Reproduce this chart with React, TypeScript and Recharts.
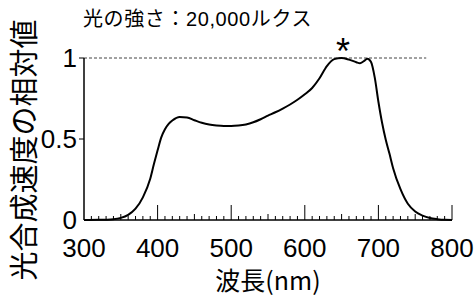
import { LineChart, Line, XAxis, YAxis, ReferenceLine, ReferenceDot } from "recharts";

// wavelength (nm) and relative photosynthetic rate
const wavelengths = [
  300, 320, 340, 350, 360, 370, 380, 390, 395, 400, 405, 410, 415, 420, 430,
  440, 450, 460, 470, 480, 490, 500, 510, 520, 530, 540, 550, 560, 570, 580,
  590, 600, 610, 620, 630, 640, 650, 660, 670, 675, 680, 685, 690, 695, 700,
  705, 710, 715, 720, 730, 740, 750, 760, 770, 780, 790, 800,
];
const rates = [
  0, 0.001, 0.005, 0.013, 0.032, 0.07, 0.14, 0.255, 0.345, 0.43, 0.51, 0.56,
  0.593, 0.614, 0.636, 0.633, 0.616, 0.6, 0.589, 0.583, 0.58, 0.58, 0.583,
  0.59, 0.603, 0.622, 0.644, 0.665, 0.688, 0.713, 0.742, 0.776, 0.815, 0.875,
  0.95, 0.993, 1.0, 0.99, 0.974, 0.968, 0.98, 0.995, 0.975, 0.88, 0.73, 0.6,
  0.495, 0.41, 0.32, 0.19, 0.1, 0.052, 0.027, 0.012, 0.005, 0.001, 0,
];

const xMajorTicks = [300, 400, 500, 600, 700, 800];
const yTicks = [0, 0.5, 1];
const peakWavelength = 652;

const data = wavelengths.map((w, i) => ({ w, v: rates[i] }));
// minor ticks every 10 nm between the labelled ones
const xAllTicks = Array.from({ length: 51 }, (_, i) => xMajorTicks[0] + i * 10);

const FONT = '"Liberation Sans", Arial, "Noto Sans CJK JP", sans-serif';
const JP_FONT = '"Noto Sans CJK JP", sans-serif';

function XTick({ x, y, payload }: any) {
  const v = payload.value as number;
  const major = xMajorTicks.includes(v);
  const mid = !major && v % 50 === 0;
  const len = major ? (v === 300 ? 0 : 15) : mid ? 6 : 4;
  return (
    <g>
      {len > 0 && <line x1={x} x2={x} y1={y} y2={y - len} stroke="#000" strokeWidth={1} />}
      {major && (
        <text x={x} y={y + 37} textAnchor="middle" fontSize={26} fontFamily={FONT} fill="#000">
          {v}
        </text>
      )}
    </g>
  );
}

function YTick({ x, y, payload }: any) {
  return (
    <g>
      {payload.value !== 0 && (
        <line x1={x} x2={x - 5} y1={y} y2={y} stroke="#000" strokeWidth={1} />
      )}
      <text x={x - 7} y={y + 9} textAnchor="end" fontSize={26} fontFamily={FONT} fill="#000">
        {payload.value}
      </text>
    </g>
  );
}

export default function App() {
  return (
    <div style={{ position: "absolute", left: 0, top: 0, width: 476, height: 296, background: "#fff" }}>
      <div
        style={{
          position: "absolute",
          left: 83,
          top: 6,
          fontSize: 20,
          fontFamily: JP_FONT,
          whiteSpace: "nowrap",
          lineHeight: "24px",
          letterSpacing: 0.6,
        }}
      >
        光の強さ：<span style={{ fontFamily: FONT }}>20,000</span>ルクス
      </div>
      <div
        style={{
          position: "absolute",
          left: 22,
          top: 150,
          transform: "translate(-50%, -50%) rotate(-90deg)",
          fontSize: 29,
          fontFamily: JP_FONT,
          whiteSpace: "nowrap",
          lineHeight: "32px",
        }}
      >
        光合成速度の相対値
      </div>
      <div
        style={{
          position: "absolute",
          left: 268,
          top: 279,
          transform: "translate(-50%, -50%)",
          fontSize: 25,
          fontFamily: JP_FONT,
          whiteSpace: "nowrap",
          lineHeight: "24px",
        }}
      >
        波長(nm)
      </div>
      <LineChart
        width={476}
        height={296}
        data={data}
        margin={{ top: 58, right: 24, bottom: 0, left: 0 }}
        style={{ position: "absolute", left: 0, top: 0 }}
      >
        <XAxis
          dataKey="w"
          type="number"
          domain={[300, 800]}
          ticks={xAllTicks}
          interval={0}
          tick={<XTick />}
          tickLine={false}
          tickSize={0}
          tickMargin={0}
          axisLine={{ stroke: "#000", strokeWidth: 1.5 }}
          height={76}
          allowDataOverflow
        />
        <YAxis
          type="number"
          domain={[0, 1]}
          ticks={yTicks}
          interval={0}
          tick={<YTick />}
          tickLine={false}
          tickSize={0}
          tickMargin={0}
          axisLine={{ stroke: "#000", strokeWidth: 1.5 }}
          width={84}
        />
        <ReferenceLine
          segment={[
            { x: 300, y: 1 },
            { x: 765, y: 1 },
          ]}
          stroke="#444"
          strokeWidth={1}
          strokeDasharray="3 2"
        />
        <ReferenceDot
          x={peakWavelength}
          y={1}
          shape={(p: any) => (
            <text x={p.cx} y={p.cy + 6} textAnchor="middle" fontSize={36} fontFamily={FONT} fill="#000">
              *
            </text>
          )}
        />
        <Line
          type="monotone"
          dataKey="v"
          stroke="#000"
          strokeWidth={2}
          dot={false}
          isAnimationActive={false}
        />
      </LineChart>
    </div>
  );
}
